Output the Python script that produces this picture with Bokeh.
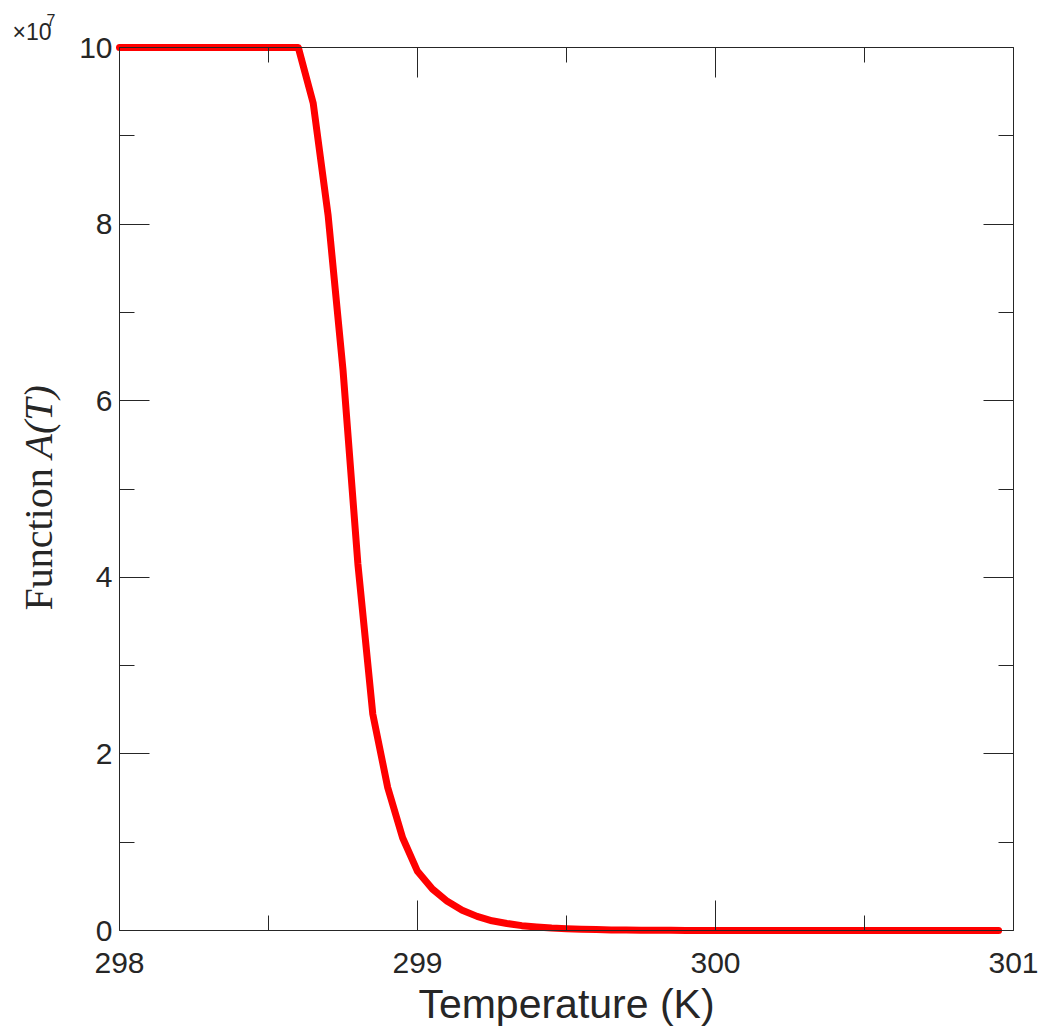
from bokeh.plotting import figure
from bokeh.models import Range1d, LinearAxis, FixedTicker, Label, CustomJSTickFormatter
from bokeh.embed import file_html
from bokeh.resources import INLINE

# ---- data ----
temperature_K = [
    298.00, 298.05, 298.10, 298.15, 298.20, 298.25, 298.30, 298.35, 298.40, 298.45,
    298.50, 298.55, 298.60, 298.65, 298.70, 298.75, 298.80, 298.85, 298.90, 298.95,
    299.00, 299.05, 299.10, 299.15, 299.20, 299.25, 299.30, 299.35, 299.40, 299.45,
    299.50, 299.55, 299.60, 299.65, 299.70, 299.75, 299.80, 299.85, 299.90, 299.95,
    300.00, 300.05, 300.10, 300.15, 300.20, 300.25, 300.30, 300.35, 300.40, 300.45,
    300.50, 300.55, 300.60, 300.65, 300.70, 300.75, 300.80, 300.85, 300.90, 300.95,
]
function_A_1e7 = [
    10.0, 10.0, 10.0, 10.0, 10.0, 10.0, 10.0, 10.0, 10.0, 10.0,
    10.0, 10.0, 10.0, 9.37, 8.10, 6.35, 4.15, 2.45, 1.62, 1.05,
    0.67, 0.47, 0.33, 0.23, 0.16, 0.11, 0.08, 0.055, 0.04, 0.028,
    0.02, 0.014, 0.010, 0.007, 0.005, 0.0035, 0.0025, 0.0018, 0.0013, 0.0009,
    0.0006, 0.0004, 0.0003, 0.0002, 0.00015, 0.0001, 0.00007, 0.00005, 0.00004, 0.00003,
    0.00002, 0.000015, 0.00001, 0.000008, 0.000006, 0.000004, 0.000003, 0.000002, 0.0000015, 0.000001,
]
x_major_ticks = [298, 299, 300, 301]
x_minor_ticks = [298.5, 299.5, 300.5]
y_major_ticks = [0, 2, 4, 6, 8, 10]
y_minor_ticks = [1, 3, 5, 7, 9]
x_label = "Temperature (K)"
y_label_plain = "Function "
y_label_italic = "A(T)"
exponent_base = "\u00d710"
exponent_power = "7"

# ---- layout (pixels of the 1047x1028 canvas) ----
W, H = 1047, 1028
FRAME_L, FRAME_R, FRAME_T, FRAME_B = 119, 1013, 47, 930
X0, X1 = 298.0, 301.0
Y0, Y1 = 0.0, 10.0
ppx = (FRAME_R - FRAME_L) / (X1 - X0)
ppy = (FRAME_B - FRAME_T) / (Y1 - Y0)


def dx(px):
    return X0 + (px - FRAME_L) / ppx


def dy(py):
    return Y0 + (FRAME_B - py) / ppy


AX = "#262626"

p = figure(width=W, height=H, output_backend="svg", toolbar_location=None,
           x_range=Range1d(dx(0), dx(W)), y_range=Range1d(dy(H), dy(0)),
           x_axis_location=None, y_axis_location=None,
           min_border=0, min_border_left=0, min_border_right=0,
           min_border_top=0, min_border_bottom=0)
p.outline_line_color = None
p.background_fill_color = "white"
p.border_fill_color = "white"
p.grid.visible = False

blank = CustomJSTickFormatter(code="return ''")


def style_axis(ax, major, minor, bounds, loc, show_labels):
    ax.fixed_location = loc
    ax.bounds = bounds
    ax.ticker = FixedTicker(ticks=major, minor_ticks=minor)
    ax.axis_line_color = AX
    ax.axis_line_width = 1
    ax.major_tick_line_color = AX
    ax.minor_tick_line_color = AX
    ax.major_tick_in = 30
    ax.major_tick_out = 0
    ax.minor_tick_in = 15
    ax.minor_tick_out = 0
    ax.major_label_text_font = "Liberation Sans"
    ax.major_label_text_font_size = "30px"
    ax.major_label_text_color = AX
    ax.major_label_text_font_style = "normal"
    if not show_labels:
        ax.formatter = blank


xb = LinearAxis()
style_axis(xb, x_major_ticks, x_minor_ticks, (X0, X1), Y0, True)
xb.major_label_standoff = 22
xb.axis_label = x_label
xb.axis_label_text_font = "Liberation Sans"
xb.axis_label_text_font_size = "41px"
xb.axis_label_text_font_style = "normal"
xb.axis_label_text_color = AX
xb.axis_label_standoff = 5
p.add_layout(xb, "below")

yl = LinearAxis()
style_axis(yl, y_major_ticks, y_minor_ticks, (Y0, Y1), X0, True)
yl.major_label_standoff = 7
p.add_layout(yl, "left")

xt = LinearAxis()
style_axis(xt, x_major_ticks, x_minor_ticks, (X0, X1), Y1, False)
p.add_layout(xt, "above")

yr = LinearAxis()
style_axis(yr, y_major_ticks, y_minor_ticks, (Y0, Y1), X1, False)
p.add_layout(yr, "right")

p.line(temperature_K, function_A_1e7, line_color="#ff0000", line_width=7,
       line_cap="round", line_join="round")

# y label (rotated), partly italic
p.add_layout(Label(x=dx(38), y=dy(610), text=y_label_plain,
                   angle=90, angle_units="deg", text_font="Liberation Serif",
                   text_font_size="40px", text_color=AX, text_align="left",
                   text_baseline="alphabetic"))
p.add_layout(Label(x=dx(38), y=dy(610 - 152), text=y_label_italic,
                   angle=90, angle_units="deg", text_font="Liberation Serif",
                   text_font_size="40px", text_font_style="italic", text_color=AX,
                   text_align="left", text_baseline="alphabetic"))

# exponent marker
p.add_layout(Label(x=dx(12), y=dy(31), text=exponent_base,
                   text_font="Liberation Sans", text_font_size="23px", text_color=AX,
                   text_align="left", text_baseline="alphabetic"))
p.add_layout(Label(x=dx(46), y=dy(19), text=exponent_power,
                   text_font="Liberation Sans", text_font_size="16px", text_color=AX,
                   text_align="left", text_baseline="alphabetic"))

open("out.html", "w").write(file_html(p, INLINE))
